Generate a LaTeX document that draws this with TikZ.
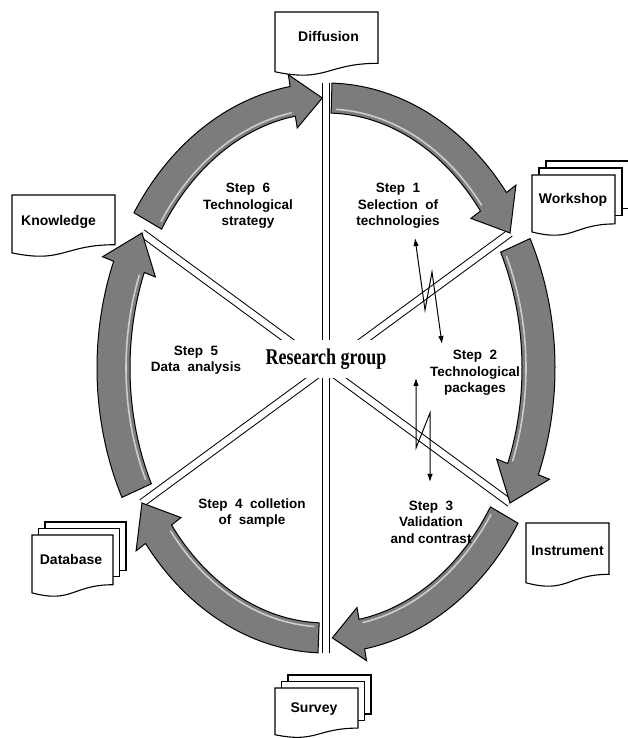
\documentclass[tikz,border=0pt]{standalone}
\usepackage{fontspec}
\setmainfont{Liberation Sans}
\newfontfamily\titleserif{Liberation Serif}
\usetikzlibrary{calc,arrows.meta}
\definecolor{bandgray}{RGB}{124,124,124}
\definecolor{bandlight}{RGB}{205,205,205}

% arrow band along the ellipse: #1 start angle, #2 tip angle (clockwise)
\newcommand{\cyclearrow}[2]{%
  \pgfmathsetmacro{\headang}{#2+8}%
  \pgfmathsetmacro{\hlstart}{#1-1.5}%
  \pgfmathsetmacro{\hlend}{#2+9}%
  \draw[band] ($(C)+(#1:229 and 285)$)
    arc[start angle=#1, end angle=\headang, x radius=229, y radius=285]
    -- ($(C)+(\headang:241 and 297)$)
    -- ($(C)+(#2:212.5 and 270)$)
    -- ($(C)+(\headang:184 and 243)$)
    -- ($(C)+(\headang:196 and 255)$)
    arc[start angle=\headang, end angle=#1, x radius=196, y radius=255]
    -- cycle;
  \draw[glint] ($(C)+(\hlstart:200 and 259)$)
    arc[start angle=\hlstart, end angle=\hlend, x radius=200, y radius=259];
}

% single document page with wavy bottom (image coords: left, top, width, height)
\newcommand{\wavedoc}[4]{%
  \draw[page] ({#1},{738-#2}) -- ({#1+#3},{738-#2})
    -- ({#1+#3},{738-#2-0.802*#4})
    .. controls ({#1+0.5*#3},{738-#2-0.802*#4}) and ({#1+0.5*#3},{738-#2-1.107*#4}) ..
    ({#1},{738-#2-0.934*#4}) -- cycle;
}
% stacked pages (left, top, width, height, offset)
\newcommand{\multidoc}[5]{%
  \draw[page] ({#1+2*#5},{738-#2+2*#5}) rectangle ({#1+2*#5+#3},{738-#2+2*#5-0.78*#4});
  \draw[page] ({#1+#5},{738-#2+#5}) rectangle ({#1+#5+#3},{738-#2+#5-0.78*#4});
  \wavedoc{#1}{#2}{#3}{#4}
}

\begin{document}
\begin{tikzpicture}[x=1pt,y=1pt,
  spoke/.style={draw=black, line width=1pt, double=white, double distance=6.5pt},
  band/.style={draw=black, line width=1pt, fill=bandgray, line join=miter},
  glint/.style={draw=bandlight, line width=1.6pt, line cap=round},
  steplabel/.style={align=center, font=\fontsize{13.5}{16.5}\selectfont\bfseries},
  doclabel/.style={font=\fontsize{14}{16}\selectfont\bfseries},
  page/.style={draw=black, line width=1.1pt, fill=white},
  link/.style={line width=1pt, {Latex[length=8pt,width=5.5pt]}-{Latex[length=8pt,width=5.5pt]}},
]
\useasboundingbox (0,0) rectangle (628,738);

\coordinate (C) at (326,370);
\coordinate (sTop) at (326,655);
\coordinate (sBot) at (326,85);
\coordinate (sUR) at ($(C)+(30:212.5 and 270)$);
\coordinate (sLR) at ($(C)+(-30:212.5 and 270)$);
\coordinate (sUL) at ($(C)+(150:212.5 and 270)$);
\coordinate (sLL) at ($(C)+(210:212.5 and 270)$);

% spokes
\draw[spoke] (sTop) -- (sBot);
\draw[spoke] (sUR) -- (sLL);
\draw[spoke] (sUL) -- (sLR);

% cycle arrows
\cyclearrow{88.5}{30}
\cyclearrow{27}{-30}
\cyclearrow{-33}{-88.3}
\cyclearrow{-92}{-150}
\cyclearrow{-153}{-210}
\cyclearrow{-213}{-269}

% centre label
\node[fill=white, inner xsep=5pt, inner ysep=9pt] (rg) at (326,379)
  {\titleserif\bfseries\fontsize{22.5}{24}\selectfont\scalebox{0.8}[1]{Research group}};

% step labels
\node[steplabel] (st6) at (248,532) {Step\ \ 6\\Technological\\strategy};
\node[steplabel] (st1) at (398,532) {Step\ \ 1\\Selection\ \ of\\technologies};
\node[steplabel] (st5) at (196,378) {Step\ \ 5\\Data\ \ analysis};
\node[steplabel] (st2) at (475,365) {Step\ \ 2\\Technological\\packages};
\node[steplabel] (st3) at (431,216) {Step\ \ 3\\Validation\\and contrast};
\node[steplabel] (st4) at (252,225) {Step\ \ 4\ \ colletion\\of\ \ sample};

% zig-zag links
\coordinate (z1a) at (415,500);
\coordinate (z1b) at (425,428);
\coordinate (z1c) at (432,466);
\coordinate (z1d) at (442,394);
\draw[link] (z1a) -- (z1b) -- (z1c) -- (z1d);
\coordinate (z2a) at (416,360);
\coordinate (z2b) at (416,290);
\coordinate (z2c) at (430,325);
\coordinate (z2d) at (430,256);
\draw[link] (z2a) -- (z2b) -- (z2c) -- (z2d);

% documents
\wavedoc{275}{12}{103}{64}
\node[doclabel] (diff) at (328.5,701) {Diffusion};

\wavedoc{12}{195}{103}{62}
\node[doclabel] (know) at (58.5,516) {Knowledge};

\multidoc{532}{175}{83}{61}{7}
\node[doclabel] (work) at (573,538) {Workshop};

\wavedoc{526}{523}{83}{64}
\node[doclabel] (instr) at (567.5,187) {Instrument};

\multidoc{32}{535}{81}{62}{6.5}
\node[doclabel] (dbase) at (71,179) {Database};

\multidoc{275}{688}{83}{50}{6.5}
\node[doclabel] (surv) at (314,29) {Survey};

\end{tikzpicture}
\end{document}
